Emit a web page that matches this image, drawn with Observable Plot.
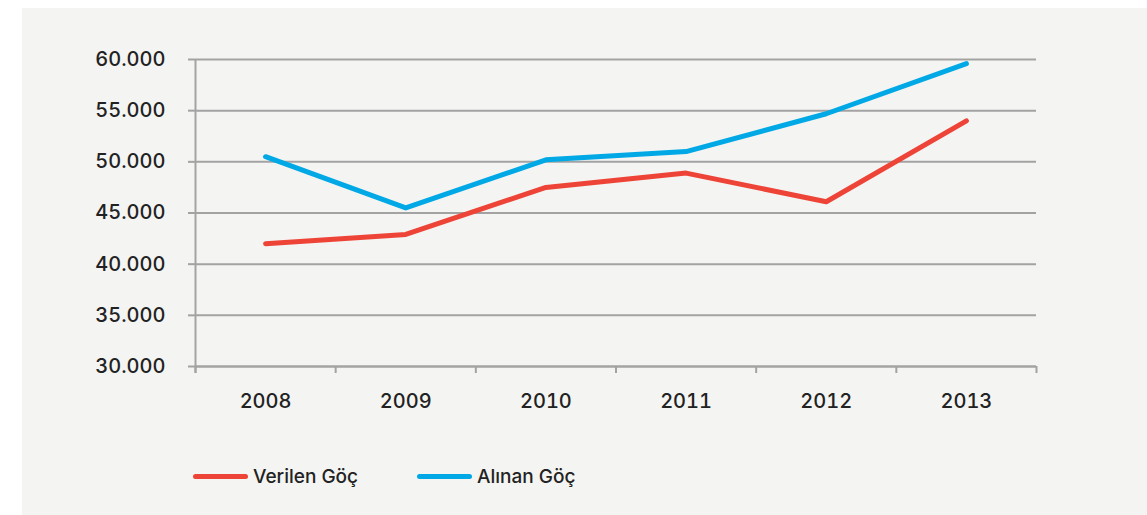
<!DOCTYPE html>
<html><head><meta charset="utf-8">
<script src="https://cdn.jsdelivr.net/npm/d3@7"></script>
<script src="https://cdn.jsdelivr.net/npm/@observablehq/plot@0.6"></script>
<style>
html,body{margin:0;padding:0;background:#fff;}
#bg{position:absolute;left:22px;top:8px;width:1125px;height:507px;background:#f4f4f2;}
#chart{position:absolute;left:0;top:0;}
#legend{position:absolute;left:0;top:0;width:1147px;font-family:"Inter",sans-serif;font-weight:500;font-size:19px;color:#222;}
.li{position:absolute;top:464px;display:flex;align-items:center;height:24px;}
.sw{width:55px;height:5px;border-radius:3px;margin-right:5px;}
</style></head>
<body>
<div id="bg"></div>
<div id="chart"></div>
<div id="legend"></div>
<script>
const years = [2008, 2009, 2010, 2011, 2012, 2013];
const verilen = [42000, 42900, 47500, 48900, 46100, 54000];
const alinan = [50500, 45500, 50200, 51000, 54700, 59600];
const yTicks = [30000, 35000, 40000, 45000, 50000, 55000, 60000];
const seriesNames = ["Verilen Göç", "Alınan Göç"];
const colors = ["#ee4437", "#00a9e6"];

const bounds = years.map(y => y - 0.5).concat([years[years.length - 1] + 0.5]);
const data = [];
years.forEach((y, i) => {
  data.push({year: y, value: verilen[i], s: seriesNames[0]});
  data.push({year: y, value: alinan[i], s: seriesNames[1]});
});
const fmt = d => d3.format(",")(d).replace(/,/g, ".");
const gray = "#a3a3a3";

const plot = Plot.plot({
  width: 1147, height: 420,
  marginLeft: 195, marginRight: 111, marginTop: 59, marginBottom: 54,
  x: {domain: [bounds[0], bounds[bounds.length - 1]]},
  y: {domain: [30000, 60000]},
  color: {domain: seriesNames, range: colors},
  style: {background: "transparent", fontFamily: "Inter, sans-serif", fontWeight: 500, fontSize: "20px", color: "#222"},
  marks: [
    Plot.gridY(yTicks, {stroke: gray, strokeOpacity: 1, strokeWidth: 2}),
    Plot.axisY({ticks: yTicks, tickSize: 7, tickPadding: 23, tickFormat: fmt, stroke: gray, strokeWidth: 2, strokeOpacity: 1, fill: "#222", fontSize: 20, label: null}),
    Plot.ruleX([bounds[0]], {stroke: gray, strokeWidth: 2, insetBottom: -7}),
    Plot.ruleY([30000], {stroke: gray, strokeWidth: 2}),
    Plot.axisX({ticks: bounds, tickSize: 7, tickFormat: () => "", stroke: gray, strokeWidth: 2, strokeOpacity: 1, label: null}),
    Plot.axisX({ticks: years, tickSize: 0, tickPadding: 27, tickFormat: d => String(d), fill: "#222", fontSize: 20, label: null}),
    Plot.line(data, {x: "year", y: "value", z: "s", stroke: "s", strokeWidth: 5, strokeLinecap: "round", strokeLinejoin: "round"})
  ]
});
document.getElementById("chart").appendChild(plot);

const leg = document.getElementById("legend");
const lefts = [193, 417];
seriesNames.forEach((n, i) => {
  const d = document.createElement("div");
  d.className = "li";
  d.style.left = lefts[i] + "px";
  d.innerHTML = `<div class="sw" style="background:${colors[i]}"></div><span>${n}</span>`;
  leg.appendChild(d);
});
</script>
</body></html>
